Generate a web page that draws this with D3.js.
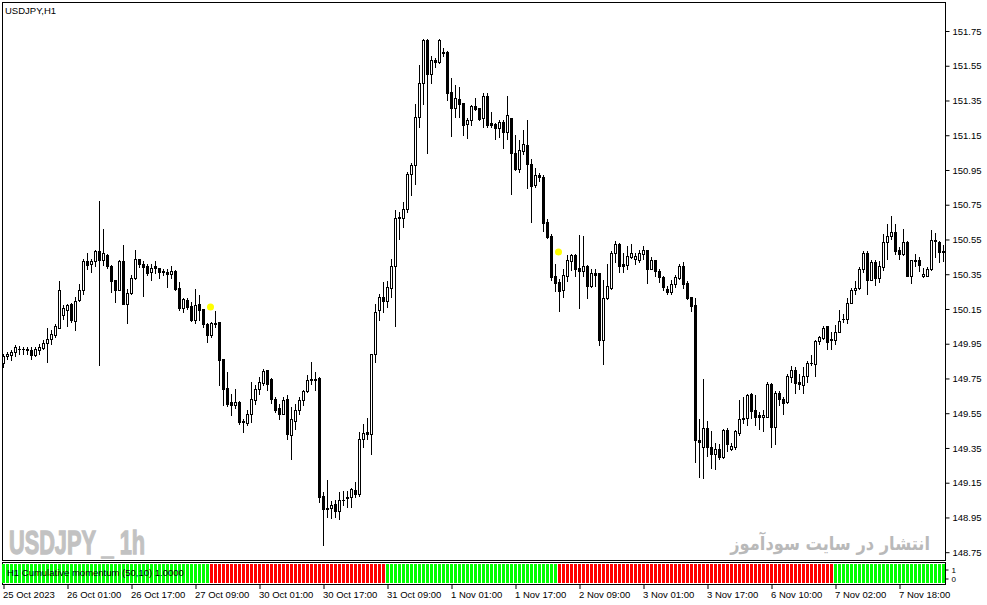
<!DOCTYPE html>
<html><head><meta charset="utf-8">
<script src="https://cdn.jsdelivr.net/npm/d3@7"></script>
<style>html,body{margin:0;padding:0;background:#fff;}svg{display:block;}</style>
</head><body>
<svg id="chart" width="987" height="605"></svg>
<script>
const opens = [149.839,149.879,149.887,149.902,149.920,149.920,149.918,149.912,149.887,149.916,149.925,149.954,149.975,150.002,150.043,150.117,150.146,150.177,150.083,150.200,
150.258,150.425,150.407,150.425,150.482,150.434,150.463,150.396,150.315,150.262,150.425,150.181,150.244,150.331,150.436,150.407,150.396,150.360,150.396,150.383,
150.369,150.363,150.354,150.367,150.273,150.156,150.204,150.165,150.089,150.177,150.148,150.066,150.002,150.071,150.074,149.860,149.694,149.614,149.598,149.617,
149.502,149.493,149.547,149.624,149.687,149.725,149.797,149.748,149.633,149.579,149.547,149.633,149.426,149.508,149.566,149.624,149.676,149.743,149.746,149.752,
149.076,149.000,149.005,149.028,148.990,149.051,149.061,149.070,149.109,149.086,149.403,149.443,149.432,149.889,150.142,150.219,150.194,150.273,150.396,150.676,
150.676,150.728,150.926,150.978,151.253,151.449,151.698,151.500,151.583,151.570,151.627,151.631,151.397,151.308,151.358,151.333,151.212,151.237,151.318,151.305,
151.247,151.376,151.218,151.214,151.189,151.227,151.170,151.247,151.045,150.953,151.060,151.093,150.987,150.863,150.920,150.911,150.649,150.570,150.338,150.305,
150.257,150.340,150.426,150.463,150.386,150.369,150.398,150.282,150.357,150.357,149.973,150.215,150.273,150.473,150.526,150.407,150.405,150.449,150.436,150.434,
150.465,150.488,150.382,150.430,150.369,150.334,150.267,150.248,150.296,150.330,150.398,150.300,150.219,150.171,149.397,149.354,149.466,149.358,149.316,149.345,
149.297,149.456,149.345,149.354,149.435,149.518,149.523,149.662,149.566,149.537,149.527,149.531,149.719,149.470,149.666,149.633,149.614,149.758,149.800,149.729,
149.714,149.764,149.838,149.835,149.963,149.984,150.050,149.973,149.969,150.017,150.090,150.094,150.184,150.261,150.271,150.382,150.474,150.319,150.421,150.330,
150.392,150.536,150.568,150.593,150.488,150.469,150.536,150.340,150.434,150.430,150.338,150.338,150.382,150.549,150.536,150.484];
const highs = [149.890,149.904,149.916,149.941,149.937,149.931,149.931,149.931,149.931,149.950,149.970,150.041,150.027,150.066,150.311,150.171,150.181,150.185,150.219,150.296,
150.440,150.473,150.440,150.488,150.771,150.613,150.469,150.402,150.319,150.431,150.517,150.267,150.344,150.492,150.440,150.427,150.407,150.407,150.427,150.388,
150.379,150.379,150.398,150.373,150.306,150.213,150.215,150.190,150.267,150.233,150.152,150.069,150.075,150.138,150.074,149.863,149.790,149.661,149.687,149.623,
149.517,149.566,149.729,149.710,149.758,149.806,149.800,149.754,149.643,149.604,149.643,149.656,149.585,149.604,149.643,149.685,149.768,149.845,149.787,149.758,
149.099,149.163,149.047,149.051,149.099,149.105,149.105,149.120,149.153,149.441,149.489,149.522,149.889,150.177,150.238,150.306,150.311,150.436,150.719,150.709,
150.767,150.940,150.988,151.330,151.554,151.702,151.702,151.606,151.593,151.702,151.650,151.637,151.477,151.439,151.429,151.337,151.247,151.324,151.362,151.305,
151.391,151.391,151.285,151.222,151.237,151.237,151.375,151.252,151.151,151.122,151.179,151.237,151.012,150.959,150.934,150.920,150.670,150.584,150.407,150.321,
150.382,150.459,150.469,150.469,150.574,150.570,150.401,150.382,150.382,150.357,150.315,150.407,150.484,150.542,150.530,150.473,150.511,150.522,150.475,150.488,
150.513,150.492,150.449,150.434,150.382,150.340,150.280,150.315,150.344,150.411,150.421,150.309,150.219,150.215,149.518,149.748,149.504,149.447,149.377,149.374,
149.460,149.466,149.379,149.454,149.627,149.643,149.662,149.666,149.652,149.556,149.566,149.729,149.723,149.675,149.675,149.643,149.777,149.821,149.815,149.777,
149.815,149.848,149.883,149.969,149.994,150.050,150.054,150.017,150.056,150.142,150.123,150.215,150.273,150.309,150.392,150.482,150.484,150.430,150.430,150.424,
150.584,150.638,150.684,150.638,150.507,150.613,150.542,150.434,150.469,150.449,150.388,150.392,150.607,150.590,150.542,150.517];
const lows = [149.816,149.864,149.858,149.879,149.893,149.893,149.893,149.864,149.879,149.893,149.918,149.845,149.950,149.989,150.043,150.094,150.052,150.075,150.031,150.194,
150.239,150.381,150.361,150.400,149.829,150.402,150.388,150.248,150.190,150.258,150.181,150.069,150.235,150.325,150.392,150.223,150.344,150.319,150.358,150.331,
150.348,150.277,150.331,150.262,150.146,150.133,150.152,150.081,150.069,150.089,150.046,149.960,149.989,150.046,149.710,149.598,149.594,149.537,149.579,149.489,
149.441,149.480,149.499,149.604,149.662,149.710,149.681,149.608,149.556,149.518,149.547,149.403,149.288,149.460,149.547,149.595,149.672,149.720,149.685,149.038,
148.794,148.951,148.947,148.955,148.942,149.022,149.013,149.009,149.070,149.076,149.355,149.403,149.316,149.845,150.085,150.133,150.162,150.219,150.050,150.550,
150.623,150.709,150.805,150.872,151.199,151.330,151.045,151.449,151.545,151.564,151.606,151.353,151.145,151.257,151.257,151.151,151.132,151.209,151.295,151.237,
151.195,151.199,151.199,151.131,151.141,151.078,151.131,150.809,150.949,150.939,151.041,150.849,150.651,150.853,150.888,150.599,150.561,150.315,150.252,150.138,
150.219,150.311,150.373,150.338,150.156,150.338,150.213,150.277,150.282,149.940,149.831,150.209,150.263,150.421,150.363,150.363,150.382,150.446,150.407,150.421,
150.440,150.300,150.378,150.340,150.305,150.261,150.238,150.238,150.277,150.325,150.273,150.209,150.138,149.268,149.181,149.178,149.306,149.235,149.229,149.287,
149.293,149.335,149.339,149.345,149.422,149.493,149.485,149.523,149.485,149.460,149.450,149.527,149.358,149.374,149.600,149.546,149.610,149.729,149.666,149.691,
149.666,149.729,149.825,149.762,149.950,149.979,149.917,149.921,149.946,150.017,150.075,150.069,150.184,150.238,150.267,150.363,150.234,150.315,150.286,150.305,
150.372,150.440,150.555,150.469,150.440,150.459,150.338,150.299,150.396,150.367,150.334,150.338,150.376,150.449,150.421,150.426];
const closes = [149.877,149.893,149.902,149.931,149.922,149.918,149.914,149.887,149.918,149.931,149.956,149.979,150.004,150.050,150.262,150.156,150.171,150.085,150.194,150.258,
150.427,150.405,150.427,150.482,150.434,150.471,150.396,150.311,150.262,150.427,150.181,150.244,150.331,150.440,150.411,150.392,150.358,150.388,150.383,150.363,
150.360,150.354,150.367,150.267,150.156,150.206,150.162,150.089,150.175,150.146,150.066,150.002,150.069,150.066,149.854,149.687,149.604,149.598,149.617,149.502,
149.504,149.547,149.633,149.691,149.729,149.793,149.716,149.633,149.570,149.547,149.627,149.432,149.514,149.570,149.624,149.676,149.743,149.748,149.743,149.066,
149.000,149.002,149.022,148.990,149.051,149.053,149.070,149.111,149.086,149.403,149.437,149.432,149.889,150.133,150.219,150.194,150.277,150.396,150.676,150.678,
150.728,150.926,150.978,151.253,151.449,151.698,151.500,151.583,151.570,151.698,151.625,151.391,151.308,151.362,151.330,151.209,151.237,151.318,151.303,151.243,
151.376,151.209,151.208,151.189,151.224,151.170,151.266,151.045,150.953,151.064,151.099,150.987,150.857,150.924,150.911,150.645,150.565,150.334,150.302,150.254,
150.344,150.430,150.463,150.382,150.369,150.398,150.282,150.357,150.348,149.969,150.215,150.280,150.475,150.522,150.398,150.398,150.453,150.473,150.453,150.473,
150.488,150.382,150.430,150.369,150.334,150.277,150.248,150.296,150.334,150.398,150.296,150.215,150.167,149.393,149.387,149.466,149.354,149.316,149.345,149.297,
149.456,149.374,149.364,149.445,149.518,149.523,149.656,149.562,149.531,149.527,149.537,149.719,149.473,149.666,149.633,149.610,149.767,149.796,149.723,149.719,
149.767,149.840,149.840,149.963,149.988,150.042,149.959,149.975,150.017,150.079,150.094,150.184,150.261,150.273,150.382,150.474,150.319,150.421,150.330,150.396,
150.536,150.568,150.593,150.484,150.469,150.536,150.340,150.430,150.426,150.405,150.349,150.382,150.549,150.542,150.478,150.478];

const priceTicks = [151.75,151.55,151.35,151.15,150.95,150.75,150.55,150.35,150.15,149.95,149.75,149.55,149.35,149.15,148.95,148.75];
const timeLabels = ["25 Oct 2023","26 Oct 01:00","26 Oct 17:00","27 Oct 09:00","30 Oct 01:00","30 Oct 17:00","31 Oct 09:00","1 Nov 01:00","1 Nov 17:00","2 Nov 09:00","3 Nov 01:00","3 Nov 17:00","6 Nov 10:00","7 Nov 02:00","7 Nov 18:00"];
const timeLabelBars = [0,16,32,48,64,80,96,112,128,144,160,176,192,208,224];
const signalStates = [1,0,1,0,1];     // 1 = green, 0 = red
const signalLengths = [52,44,43,69,28];
const dotBars = [52,139];
const dotPrices = [150.161,150.478];
const symbolTitle = "USDJPY,H1";
const indicatorTitle = "H1 Cumulative momentum (50,10) 1.0000";
const watermarkLeft = "USDJPY _ 1h";
const watermarkRight = "انتشار در سایت سودآموز";

const N = opens.length;
const svg = d3.select("#chart");
const FONT = "'Liberation Sans', Arial, sans-serif";

const x = d3.scaleBand().domain(d3.range(N)).range([1.33, 945.33]).padding(0);
const col = i => Math.floor(x(i) + x.bandwidth() / 2);
const y = d3.scaleLinear().domain([148.75, 151.75]).range([552.2, 31]);
const yi = d3.scaleLinear().domain([0, 1]).range([583, 564]);

svg.append("rect").attr("width", 987).attr("height", 605).attr("fill", "#fff");

// watermarks
svg.append("text").attr("x", 9).attr("y", 554).text(watermarkLeft)
  .attr("font-family", "'Liberation Sans Narrow','Liberation Sans',Arial,sans-serif")
  .attr("font-weight", "bold").attr("font-size", 33).attr("fill", "#c2c2c2")
  .attr("stroke", "#c2c2c2").attr("stroke-width", 1.3)
  .attr("textLength", 136).attr("lengthAdjust", "spacingAndGlyphs");
svg.append("g").attr("transform", "translate(930,550) scale(0.855,1)")
  .append("text").attr("x", 0).attr("y", 0).text(watermarkRight)
  .attr("font-family", "'DejaVu Sans', 'Noto Sans', sans-serif").attr("font-weight", "bold")
  .attr("font-size", 19).attr("fill", "#b9b9b9").attr("text-anchor", "end");

// candles
const bars = svg.append("g");
d3.range(N).forEach(i => {
  const c = col(i);
  const o = opens[i], h = highs[i], l = lows[i], cl = closes[i];
  bars.append("line").attr("x1", c + 0.5).attr("x2", c + 0.5)
    .attr("y1", Math.round(y(h))).attr("y2", Math.round(y(l)) + 1)
    .attr("stroke", "#000").attr("stroke-width", 1);
  const yt = Math.round(y(Math.max(o, cl))), yb = Math.round(y(Math.min(o, cl)));
  if (yb - yt < 1) {
    bars.append("rect").attr("x", c - 1).attr("y", yt).attr("width", 3).attr("height", 1).attr("fill", "#000");
  } else {
    bars.append("rect").attr("x", c - 0.5).attr("y", yt + 0.5).attr("width", 2).attr("height", yb - yt)
      .attr("fill", cl >= o ? "#fff" : "#000").attr("stroke", "#000").attr("stroke-width", 1);
  }
});

// signal dots
dotBars.forEach((b, k) => {
  svg.append("circle").attr("cx", col(b) - 0.5).attr("cy", y(dotPrices[k])).attr("r", 3.5).attr("fill", "#ffff00");
});

// frames
svg.append("rect").attr("x", 2.5).attr("y", 2.5).attr("width", 943).attr("height", 558)
  .attr("fill", "none").attr("stroke", "#000");
svg.append("rect").attr("x", 2.5).attr("y", 562.5).attr("width", 943).attr("height", 22)
  .attr("fill", "none").attr("stroke", "#000");

// title
svg.append("text").attr("x", 5).attr("y", 14).text(symbolTitle)
  .attr("font-family", FONT).attr("font-size", 9.5).attr("fill", "#000");

// indicator histogram
const states = [];
signalStates.forEach((s, k) => { for (let j = 0; j < signalLengths[k]; j++) states.push(s); });
const ig = svg.append("g");
states.forEach((s, i) => {
  ig.append("rect").attr("x", col(i) - 1).attr("y", yi(1)).attr("width", 3).attr("height", yi(0) - yi(1))
    .attr("fill", s ? "#00ff00" : "#ff0000");
});
svg.append("text").attr("x", 7).attr("y", 575.5).text(indicatorTitle)
  .attr("font-family", FONT).attr("font-size", 9.5).attr("fill", "#000");

// price axis
const pAxis = d3.axisRight(y).tickValues(priceTicks).tickFormat(d3.format(".2f")).tickSize(4).tickPadding(3);
const pg = svg.append("g").attr("transform", "translate(945.5,0)").call(pAxis);
pg.select(".domain").remove();
pg.selectAll("text").attr("font-family", FONT).attr("font-size", 9.5).attr("fill", "#000");
pg.selectAll("line").attr("stroke", "#000");

// indicator axis
const iAxis = d3.axisRight(d3.scaleLinear().domain([0, 1]).range([578.5, 569.5])).tickValues([1, 0]).tickFormat(d3.format("d")).tickSize(3).tickPadding(3);
const iag = svg.append("g").attr("transform", "translate(945.5,0)").call(iAxis);
iag.select(".domain").remove();
iag.selectAll("text").attr("font-family", FONT).attr("font-size", 8).attr("fill", "#000");

// time axis
const tAxis = d3.axisBottom(d3.scaleLinear().domain([0, N - 1]).range([col(0) + 0.5, col(N - 1) + 0.5]))
  .tickValues(timeLabelBars).tickFormat((d, k) => timeLabels[k]).tickSize(4).tickPadding(2);
const tg = svg.append("g").attr("transform", "translate(0,585)").call(tAxis);
tg.select(".domain").remove();
tg.selectAll("text").attr("font-family", FONT).attr("font-size", 9.5).attr("fill", "#000").attr("text-anchor", "start").attr("dx", -1);
tg.selectAll("line").attr("stroke", "#000");
</script>
</body></html>
